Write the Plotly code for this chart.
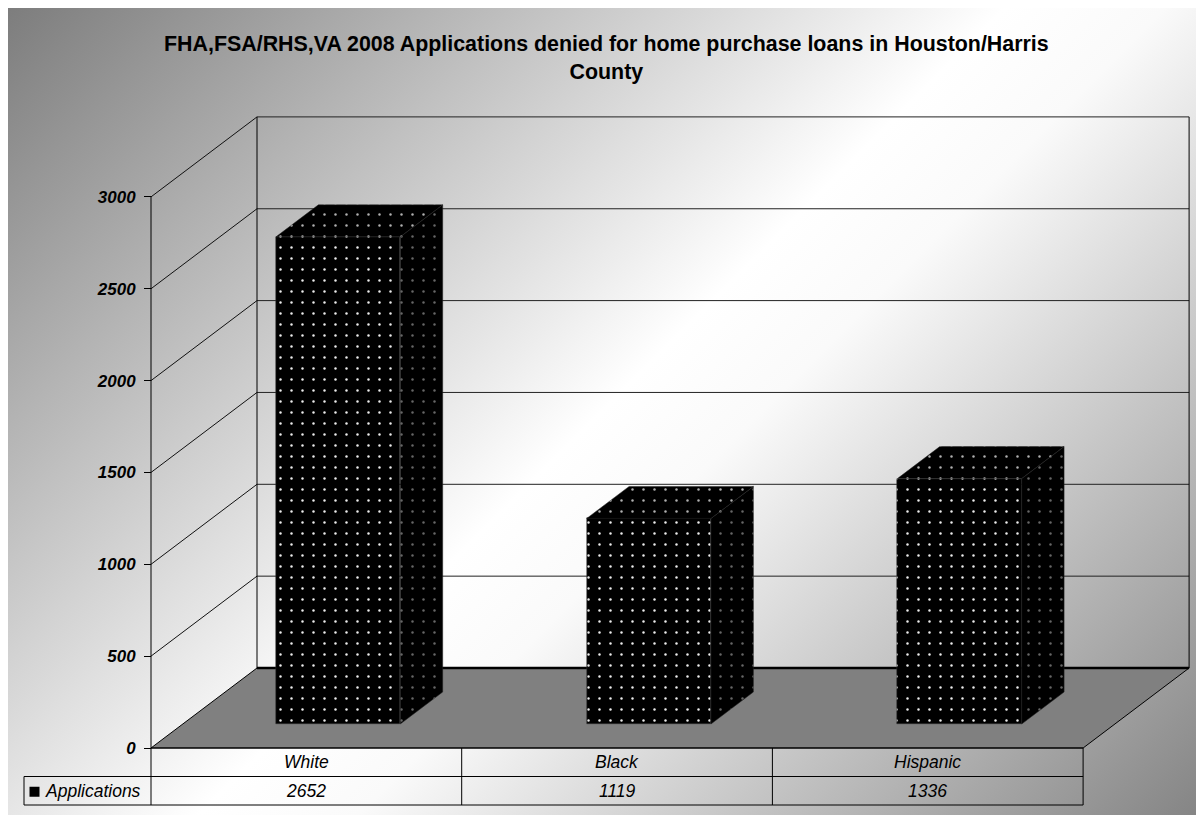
import base64
import plotly.graph_objects as go

# ---- data ----
categories = ["White", "Black", "Hispanic"]
applications = [2652, 1119, 1336]
series_name = "Applications"
y_ticks = [0, 500, 1000, 1500, 2000, 2500, 3000]
title_lines = ["FHA,FSA/RHS,VA 2008 Applications denied for home purchase loans in Houston/Harris",
               "County"]

# ---- page / projection geometry (pixels) ----
W, H = 1196, 815
ORIGIN_PX = (151, 748)      # front-left corner of the floor
CAT_PX = 310.7              # width of one category on the front plane
UNIT_PX = 0.1837            # pixels per application on the value scale
DEPTH_PX = (106, -80)       # oblique offset from the front plane to the back wall
ROW_PX = 28.5               # data-table row height
LEGEND_LEFT_PX = 24
GAP_WIDTH = 1.5             # gap between bars relative to bar width

DX = DEPTH_PX[0] / CAT_PX
DY = -DEPTH_PX[1] / UNIT_PX
ROW = ROW_PX / UNIT_PX
BAR_W = 1.0 / (1.0 + GAP_WIDTH)
D0, D1 = (1 - BAR_W) / 2, (1 + BAR_W) / 2   # bar depth span
N = len(categories)
VMAX = y_ticks[-1]

FONT = "Arial, Liberation Sans, sans-serif"


def P(x, v, d):
    """Project (category x, value v, depth d) onto the 2-D axes."""
    return x + DX * d, v + DY * d


def px_x(p):
    return (p - ORIGIN_PX[0]) / CAT_PX


def px_y(p):
    return (ORIGIN_PX[1] - p) / UNIT_PX


# ---- background gradient ----
BW_, BH_ = W - 8, H - 8
g = (BW_ + BH_) / 2
svg = (
    f"<svg xmlns='http://www.w3.org/2000/svg' width='{BW_}' height='{BH_}'>"
    f"<defs><linearGradient id='g' gradientUnits='userSpaceOnUse' x1='0' y1='0' x2='{g}' y2='{g}'>"
    "<stop offset='0' stop-color='#7d7d7d'/>"
    "<stop offset='0.5' stop-color='#ffffff'/>"
    "<stop offset='0.58' stop-color='#fafafa'/>"
    "<stop offset='1' stop-color='#858585'/>"
    "</linearGradient></defs>"
    f"<rect width='{BW_}' height='{BH_}' fill='url(#g)'/></svg>"
)
bg_src = "data:image/svg+xml;base64," + base64.b64encode(svg.encode()).decode()

shapes = []


def seg(a, b, color="#000000", width=1):
    shapes.append(dict(type="line", xref="x", yref="y", x0=a[0], y0=a[1], x1=b[0], y1=b[1],
                       line=dict(color=color, width=width), layer="below"))


def poly(pts, fill, color="#000000", width=1):
    path = "M " + " L ".join(f"{x},{y}" for x, y in pts) + " Z"
    shapes.append(dict(type="path", xref="x", yref="y", path=path, fillcolor=fill,
                       line=dict(color=color, width=width), layer="below"))


# floor
poly([P(0, 0, 0), P(0, 0, 1), P(N, 0, 1), P(N, 0, 0)], "#808080")
# walls: gridlines on the side and back wall
for v in y_ticks[1:]:
    seg(P(0, v, 0), P(0, v, 1), "#111111", 1)
    seg(P(0, v, 1), P(N, v, 1), "#222222", 1)
seg(P(0, 0, 1), P(N, 0, 1), "#000000", 2.5)
seg(P(0, 0, 1), P(0, VMAX, 1))
seg(P(N, 0, 1), P(N, VMAX, 1))
seg(P(0, 0, 0), P(0, VMAX, 0))

# data table grid
xl = px_x(LEGEND_LEFT_PX)
for k, x0 in ((0, 0), (1, xl), (2, xl)):
    shapes.append(dict(type="line", xref="x", yref="y", x0=x0, x1=N, y0=-k * ROW, y1=-k * ROW,
                       line=dict(color="#000000", width=1)))
for i in range(N + 1):
    shapes.append(dict(type="line", xref="x", yref="y", x0=i, x1=i, y0=0, y1=-2 * ROW,
                       line=dict(color="#000000", width=1)))
shapes.append(dict(type="line", xref="x", yref="y", x0=xl, x1=xl, y0=-ROW, y1=-2 * ROW,
                   line=dict(color="#000000", width=1)))
# legend key
kc = -1.5 * ROW - 1.0 / UNIT_PX
shapes.append(dict(type="rect", xref="x", yref="y", x0=px_x(29.5), x1=px_x(39.5),
                   y0=kc - 5 / UNIT_PX, y1=kc + 5 / UNIT_PX,
                   fillcolor="#000000", line=dict(color="#000000", width=0)))

fig = go.Figure()


def dots(fg):
    return dict(shape=".", fgcolor=fg, bgcolor="#000000", size=11, solidity=0.04, fillmode="replace")


# bar front faces
fig.add_trace(go.Bar(
    x=[i + 0.5 + DX * D0 for i in range(N)], y=applications, base=DY * D0, width=BAR_W,
    marker=dict(color="#000000", line=dict(color="#333333", width=0.5), pattern=dots("#ececec")),
    name=series_name, showlegend=False, hovertemplate="%{text}: %{y}<extra></extra>",
    text=categories, textposition="none",
))

# bar side and top faces
for i, v in enumerate(applications):
    xr, xlb = i + 0.5 + BAR_W / 2, i + 0.5 - BAR_W / 2
    side = [P(xr, 0, D0), P(xr, 0, D1), P(xr, v, D1), P(xr, v, D0), P(xr, 0, D0)]
    top = [P(xlb, v, D0), P(xlb, v, D1), P(xr, v, D1), P(xr, v, D0), P(xlb, v, D0)]
    for pts, fg in ((side, "#666666"), (top, "#b0b0b0")):
        fig.add_trace(go.Scatter(
            x=[p[0] for p in pts], y=[p[1] for p in pts], mode="lines", fill="toself",
            fillcolor="#000000", fillpattern=dots(fg),
            line=dict(color="#222222", width=0.5), hoverinfo="skip", showlegend=False,
        ))

annotations = []
tfont = dict(family=FONT, size=17.5, color="#000000", style="italic")
for i, (c, v) in enumerate(zip(categories, applications)):
    annotations.append(dict(x=i + 0.5, y=-0.5 * ROW, xref="x", yref="y", text=c,
                            showarrow=False, font=tfont))
    annotations.append(dict(x=i + 0.5, y=-1.5 * ROW, xref="x", yref="y", text=str(v),
                            showarrow=False, font=tfont))
annotations.append(dict(x=px_x(43), y=-1.5 * ROW, xref="x", yref="y", text=series_name,
                        xanchor="left", showarrow=False, font=tfont))
annotations.append(dict(x=606 / W, y=1 - 30 / H, xref="paper", yref="paper", yanchor="top",
                        text="<br>".join(title_lines), showarrow=False,
                        font=dict(family=FONT, size=21.4, color="#000000", weight="bold")))

fig.update_layout(
    width=W, height=H, margin=dict(l=0, r=0, t=0, b=0),
    paper_bgcolor="#ffffff", plot_bgcolor="rgba(0,0,0,0)",
    showlegend=False, bargap=0,
    xaxis=dict(visible=False, range=[px_x(0), px_x(W)], fixedrange=True),
    yaxis=dict(range=[px_y(H), px_y(0)], anchor="free", position=ORIGIN_PX[0] / W,
               tickvals=y_ticks, ticks="outside", ticklen=7, tickcolor="#000000", tickwidth=1,
               ticklabelstandoff=5,
               showgrid=False, zeroline=False, showline=False, fixedrange=True,
               tickfont=dict(family=FONT, size=17, color="#000000", weight="bold", style="italic")),
    images=[dict(source=bg_src, xref="paper", yref="paper", x=8 / W, y=1 - 8 / H,
                 sizex=BW_ / W, sizey=BH_ / H, xanchor="left", yanchor="top",
                 sizing="stretch", layer="below")],
    shapes=shapes, annotations=annotations,
)

fig.write_html("out.html")
